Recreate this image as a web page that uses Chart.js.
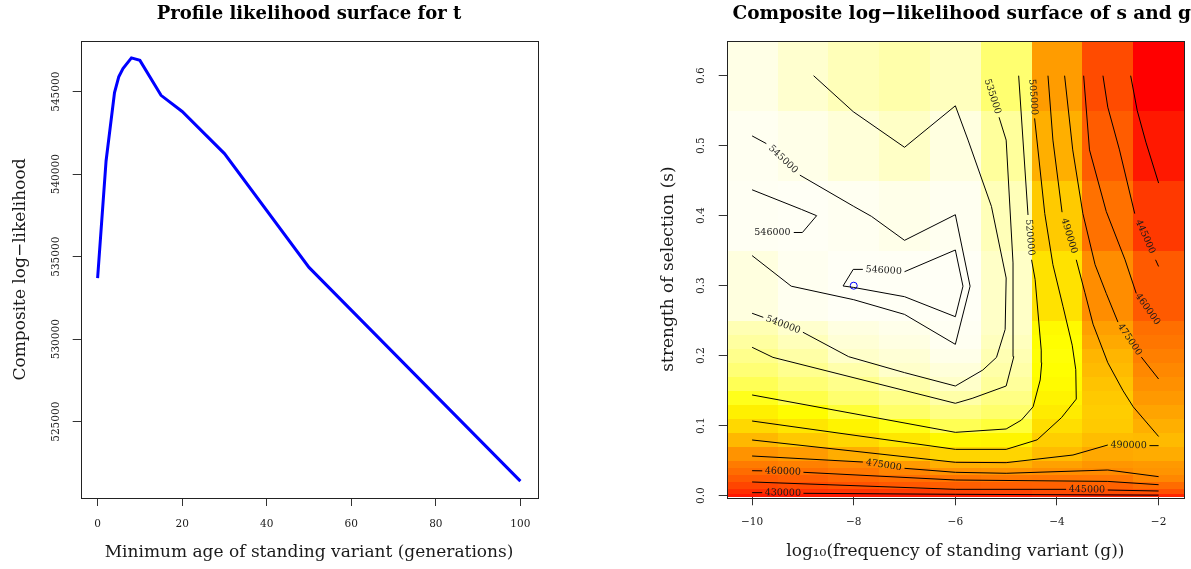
<!DOCTYPE html>
<html>
<head>
<meta charset="utf-8">
<script src="https://cdn.jsdelivr.net/npm/chart.js@4.4.1/dist/chart.umd.min.js"></script>
<style>
  html, body { margin: 0; padding: 0; background: #fff; }
  #wrap { position: relative; width: 1191px; height: 569px; overflow: hidden; }
  #profileChart { position: absolute; left: 0; top: 0; }
  #surfaceChart { position: absolute; left: 618px; top: 0; }
</style>
</head>
<body>
<div id="wrap">
  <canvas id="profileChart" width="618" height="569"></canvas>
  <canvas id="surfaceChart" width="573" height="569"></canvas>
</div>
<script>
// left panel: profile log-likelihood against minimum age t
const ageGenerations = [0, 2, 4, 5, 6, 8, 10, 15, 20, 30, 50, 100];
const profileLogLik = [533700, 540800, 544950, 545900, 546400, 547050, 546900, 544780, 543800, 541250, 534350, 521400];
const profileXTicks = [0, 20, 40, 60, 80, 100];
const profileYTicks = [525000, 530000, 535000, 540000, 545000];

// right panel: composite log-likelihood over log10(g) and s
const log10g = [-10, -9, -8, -7, -6, -5, -4, -3, -2];
const sBreaks = [-0.0023, 0.003, 0.01, 0.02, 0.03, 0.04, 0.05, 0.07, 0.09, 0.11, 0.13, 0.15, 0.17, 0.19, 0.21, 0.23, 0.25, 0.35, 0.45, 0.55, 0.65];
// one row per s band, bottom to top; columns follow log10g
const surfaceLogLik = [
  [424000, 424000, 424000, 424000, 425000, 425000, 428000, 428000, 429000],
  [432200, 433200, 434400, 436400, 439500, 440700, 443000, 444000, 444800],
  [440500, 442700, 445600, 448600, 451700, 452800, 453500, 454000, 459000],
  [450000, 452300, 456700, 460000, 463500, 465500, 464500, 465000, 472000],
  [459300, 461200, 465200, 470700, 476700, 478000, 475500, 474000, 477600],
  [466600, 469000, 472700, 480400, 487200, 487800, 482600, 478500, 480000],
  [477200, 480800, 486500, 493100, 500000, 500100, 491300, 484800, 486100],
  [490100, 495000, 500800, 507000, 513500, 512100, 497300, 491500, 490500],
  [501300, 506500, 511700, 517800, 523400, 521100, 503300, 496000, 487200],
  [510400, 515400, 520800, 525200, 530700, 526000, 508500, 497000, 483500],
  [518400, 522500, 526500, 531700, 536600, 530900, 512000, 495500, 479800],
  [523500, 527800, 532200, 536900, 540300, 535200, 514500, 493500, 476200],
  [528000, 533100, 537000, 540300, 541900, 536600, 516000, 491000, 472400],
  [532400, 536400, 540300, 541500, 543600, 537800, 516500, 489000, 468500],
  [535800, 538600, 541500, 542700, 545200, 539000, 515500, 485000, 464700],
  [537900, 540600, 542600, 543900, 545700, 540000, 514000, 482000, 460800],
  [542400, 545100, 546200, 546100, 546300, 540000, 505000, 474500, 450000],
  [545600, 546100, 545300, 543700, 545000, 538500, 496000, 462000, 436000],
  [545200, 543500, 541800, 539900, 542500, 535300, 487000, 451000, 424000],
  [543000, 540800, 538500, 537000, 539000, 527000, 481000, 443000, 415000]
];
const surfaceXTicks = [-10, -8, -6, -4, -2];
const surfaceYTicks = [0, 0.1, 0.2, 0.3, 0.4, 0.5, 0.6];
const bestFit = [-8, 0.3];

// contour paths as [log10 g, s]; a label sits in each gap between pieces
const contour546Peak = [
  [[-8.21, 0.2996], [-8.01, 0.3233], [-7.82, 0.3233]],
  [[-7.0, 0.320], [-6.0, 0.351], [-5.85, 0.2993], [-6.0, 0.2557], [-7.0, 0.2843], [-8.0, 0.2975], [-8.21, 0.2996]]
];
const contour546Left = [
  [[-10, 0.437], [-9.03, 0.409], [-8.73, 0.400], [-9.01, 0.376], [-9.18, 0.376]],
  [[-10.02, 0.376]]
];
const contour545 = [
  [[-10, 0.514], [-9.72, 0.503]],
  [[-9.06, 0.458], [-8.0, 0.4133], [-7.65, 0.399], [-7.0, 0.3648], [-6.0, 0.4014], [-5.71, 0.2993], [-6.0, 0.2162], [-7.0, 0.259], [-8.0, 0.280], [-9.23, 0.2993], [-10, 0.343]]
];
const contour540 = [
  [[-10, 0.2606], [-9.78, 0.2548]],
  [[-9.0, 0.2335], [-8.1, 0.1986], [-7.0, 0.1758], [-6.0, 0.1567], [-5.46, 0.1795], [-5.19, 0.1976], [-5.02, 0.2375], [-5.0, 0.311], [-5.29, 0.4133], [-5.75, 0.508], [-6.0, 0.557], [-7.0, 0.4977], [-8.01, 0.5486], [-8.79, 0.600]]
];
const contour535 = [
  [[-10, 0.212], [-9.59, 0.1976], [-6.0, 0.132], [-5.67, 0.139], [-5.0, 0.1567], [-4.85, 0.1986], [-4.865, 0.3325], [-5.0, 0.508], [-5.14, 0.5406]],
  [[-5.40, 0.600]]
];
const contour520 = [
  [[-10, 0.1439], [-6.0, 0.0905], [-5.0, 0.0953], [-4.70, 0.108], [-4.47, 0.127], [-4.33, 0.1653], [-4.30, 0.19], [-4.31, 0.208], [-4.43, 0.309], [-4.50, 0.337]],
  [[-4.57, 0.401], [-4.754, 0.600]]
];
const contour505 = [
  [[-10, 0.1067], [-6.0, 0.0662], [-5.0, 0.0662], [-4.39, 0.0798], [-3.91, 0.1116], [-3.62, 0.138], [-3.63, 0.18], [-3.70, 0.215], [-3.88, 0.27], [-4.08, 0.33], [-4.24, 0.403], [-4.44, 0.539]],
  [[-4.50, 0.600]]
];
const contour490Upper = [
  [[-4.177, 0.600], [-4.08, 0.508], [-3.90, 0.405]],
  [[-3.62, 0.337], [-3.45, 0.29], [-3.29, 0.245], [-3.0, 0.19], [-2.7, 0.15], [-2.5, 0.127], [-2.0, 0.0846]]
];
const contour490Lower = [
  [[-10, 0.0796], [-6.0, 0.0477], [-5.0, 0.0472], [-3.685, 0.0581], [-3.0, 0.0724]],
  [[-2.18, 0.0715], [-2.0, 0.0715]]
];
const contour475Upper = [
  [[-3.85, 0.600], [-3.69, 0.494], [-3.49, 0.403], [-3.25, 0.33], [-3.03, 0.289], [-2.80, 0.248]],
  [[-2.34, 0.198], [-2.0, 0.1667]]
];
const contour475Lower = [
  [[-10, 0.0567], [-7.82, 0.0481]],
  [[-7.0, 0.0391], [-6.0, 0.0334], [-5.0, 0.032], [-3.0, 0.0367], [-2.0, 0.0272]]
];
const contour460Upper = [
  [[-3.475, 0.600], [-3.36, 0.494], [-3.03, 0.406], [-2.66, 0.337], [-2.44, 0.289]],
  [[-2.0, 0.244]]
];
const contour460Lower = [
  [[-10, 0.0357], [-9.80, 0.0355]],
  [[-8.99, 0.0334], [-6.0, 0.0224], [-3.0, 0.0204], [-2.0, 0.0157]]
];
const contour445Upper = [
  [[-3.095, 0.600], [-3.0, 0.555], [-2.77, 0.494], [-2.47, 0.403]],
  [[-2.06, 0.337], [-2.0, 0.3275]]
];
const contour445Lower = [
  [[-10, 0.0196], [-6.0, 0.0091], [-3.82, 0.0091]],
  [[-3.0, 0.0081], [-2.0, 0.0067]]
];
const contour430Upper = [
  [[-2.55, 0.600], [-2.42, 0.55], [-2.25, 0.505], [-2.0, 0.4466]]
];
const contour430Lower = [
  [[-10, 0.0043], [-9.80, 0.0043]],
  [[-8.99, 0.0034], [-6.0, 0.002], [-2.0, 0.0008]]
];
const contourLevels = [546000, 546000, 545000, 540000, 535000, 520000, 505000, 490000, 490000, 475000, 475000, 460000, 460000, 445000, 445000, 430000, 430000];
const contourPaths = [contour546Peak, contour546Left, contour545, contour540, contour535, contour520, contour505,
  contour490Upper, contour490Lower, contour475Upper, contour475Lower, contour460Upper, contour460Lower,
  contour445Upper, contour445Lower, contour430Upper, contour430Lower];

const FONT = '"DejaVu Serif", "Liberation Serif", serif';
const INK = '#1a1a1a';

// heat palette: red -> yellow, then yellow fading to white
const hueStops = [[415000, 0], [445000, 19], [465000, 28], [480000, 36], [495000, 47], [516000, 60]];
const paleStops = [[516000, 1], [525000, 0.6], [535000, 0.4], [540000, 0.22], [543000, 0.1], [546500, 0.03]];

function interp(stops, v) {
  if (v <= stops[0][0]) return stops[0][1];
  for (let i = 1; i < stops.length; i++) {
    if (v <= stops[i][0]) {
      const [x0, y0] = stops[i - 1], [x1, y1] = stops[i];
      return y0 + (y1 - y0) * (v - x0) / (x1 - x0);
    }
  }
  return stops[stops.length - 1][1];
}

function heatColour(z) {
  if (z < 516000) return `rgb(255,${Math.round(255 * interp(hueStops, z) / 60)},0)`;
  return `rgb(255,255,${Math.round(255 * (1 - interp(paleStops, z)))})`;
}

const plotBox = {
  id: 'plotBox',
  afterDatasetsDraw(chart) {
    const { ctx, chartArea: a } = chart;
    ctx.save();
    ctx.strokeStyle = '#222';
    ctx.lineWidth = 1;
    ctx.strokeRect(Math.round(a.left) + 0.5, Math.round(a.top) + 0.5, Math.round(a.right - a.left), Math.round(a.bottom - a.top));
    ctx.restore();
  }
};

const heatCells = {
  id: 'heatCells',
  beforeDatasetsDraw(chart) {
    const { ctx, scales: { x, y } } = chart;
    ctx.save();
    surfaceLogLik.forEach((row, i) => {
      const top = Math.round(y.getPixelForValue(sBreaks[i + 1]));
      const bottom = Math.round(y.getPixelForValue(sBreaks[i]));
      row.forEach((z, j) => {
        const left = Math.round(x.getPixelForValue(log10g[j] - 0.5));
        const right = Math.round(x.getPixelForValue(log10g[j] + 0.5));
        ctx.fillStyle = heatColour(z);
        ctx.fillRect(left, top, right - left, bottom - top);
      });
    });
    ctx.restore();
  }
};

const contourLabels = {
  id: 'contourLabels',
  afterDatasetsDraw(chart) {
    const { ctx, scales: { x, y } } = chart;
    ctx.save();
    ctx.font = '9.5px ' + FONT;
    ctx.fillStyle = INK;
    ctx.textAlign = 'center';
    ctx.textBaseline = 'middle';
    contourPaths.forEach((pieces, k) => {
      for (let i = 0; i < pieces.length - 1; i++) {
        const a = pieces[i][pieces[i].length - 1];
        const b = pieces[i + 1][0];
        const ax = x.getPixelForValue(a[0]), ay = y.getPixelForValue(a[1]);
        const bx = x.getPixelForValue(b[0]), by = y.getPixelForValue(b[1]);
        let ang = Math.atan2(by - ay, bx - ax);
        if (ang > Math.PI / 2) ang -= Math.PI;
        if (ang <= -Math.PI / 2) ang += Math.PI;
        ctx.save();
        ctx.translate((ax + bx) / 2, (ay + by) / 2);
        ctx.rotate(ang);
        ctx.fillText(String(contourLevels[k]), 0, 0);
        ctx.restore();
      }
    });
    ctx.restore();
  }
};

function padAxis(width) {
  return {
    type: 'linear', position: 'right', display: true,
    grid: { display: false }, ticks: { display: false }, border: { display: false },
    afterFit: s => { s.width = width; }
  };
}

function tickGrid() {
  return { display: true, drawOnChartArea: false, drawTicks: true, tickLength: 8, color: '#333', tickColor: '#333' };
}

const minus = v => (v < 0 ? '\u2212' + Math.abs(v) : String(v));

// ---- left chart ----
new Chart(document.getElementById('profileChart'), {
  type: 'scatter',
  data: {
    datasets: [{
      data: ageGenerations.map((t, i) => ({ x: t, y: profileLogLik[i] })),
      showLine: true,
      borderColor: '#0000ff',
      borderWidth: 3,
      pointRadius: 0,
      tension: 0
    }]
  },
  options: {
    responsive: false,
    animation: false,
    layout: { padding: 0 },
    plugins: {
      legend: { display: false },
      tooltip: { enabled: false },
      title: {
        display: true,
        text: 'Profile likelihood surface for t',
        color: '#000',
        font: { family: FONT, size: 18, weight: 'bold', lineHeight: 1.2 },
        padding: { top: 4, bottom: 15.4 }
      }
    },
    scales: {
      x: {
        type: 'linear', min: -4, max: 104,
        afterBuildTicks: s => { s.ticks = profileXTicks.map(v => ({ value: v })); },
        afterFit: s => { s.height = 71; },
        grid: tickGrid(),
        border: { display: false },
        ticks: { color: INK, font: { family: FONT, size: 10.5 }, padding: 11.5, maxRotation: 0, autoSkip: false },
        title: {
          display: true, text: 'Minimum age of standing variant (generations)', color: INK,
          font: { family: FONT, size: 17 }, padding: { top: 0, bottom: 5.8 }
        }
      },
      y: {
        type: 'linear', min: 520376, max: 548073,
        afterBuildTicks: s => { s.ticks = profileYTicks.map(v => ({ value: v })); },
        afterFit: s => { s.width = 80.7; },
        grid: tickGrid(),
        border: { display: false },
        ticks: {
          color: INK, font: { family: FONT, size: 10.5 }, minRotation: 90, maxRotation: 90,
          crossAlign: 'center', padding: -3.3, autoSkip: false, callback: v => String(v)
        },
        title: {
          display: true, text: 'Composite log\u2212likelihood', color: INK,
          font: { family: FONT, size: 17 }, padding: { top: 10.8, bottom: 0 }
        }
      },
      yPad: padAxis(80.7)
    }
  },
  plugins: [plotBox]
});

// ---- right chart ----
const contourSets = [];
contourPaths.forEach(pieces => {
  pieces.forEach(piece => {
    if (piece.length < 2) return;
    contourSets.push({
      data: piece.map(([g, s]) => ({ x: g, y: s })),
      showLine: true,
      borderColor: '#000',
      borderWidth: 1,
      pointRadius: 0,
      tension: 0
    });
  });
});

new Chart(document.getElementById('surfaceChart'), {
  type: 'scatter',
  data: {
    datasets: contourSets.concat([{
      data: [{ x: bestFit[0], y: bestFit[1] }],
      pointRadius: 3.5,
      pointBorderColor: '#0000ff',
      pointBackgroundColor: 'rgba(0,0,0,0)',
      pointBorderWidth: 1
    }])
  },
  options: {
    responsive: false,
    animation: false,
    layout: { padding: 0 },
    plugins: {
      legend: { display: false },
      tooltip: { enabled: false },
      title: {
        display: true,
        align: 'end',
        text: 'Composite log\u2212likelihood surface of s and g',
        color: '#000',
        font: { family: FONT, size: 18.5, weight: 'bold', lineHeight: 1.2 },
        padding: { top: 3.5, bottom: 15 }
      }
    },
    scales: {
      x: {
        type: 'linear', min: -10.5, max: -1.5,
        afterBuildTicks: s => { s.ticks = surfaceXTicks.map(v => ({ value: v })); },
        afterFit: s => { s.height = 71.7; },
        grid: tickGrid(),
        border: { display: false },
        ticks: { color: INK, font: { family: FONT, size: 10.5 }, padding: 11, maxRotation: 0, autoSkip: false, callback: minus },
        title: {
          display: true, text: 'log\u2081\u2080(frequency of standing variant (g))', color: INK,
          font: { family: FONT, size: 17 }, padding: { top: 0, bottom: 6.8 }
        }
      },
      y: {
        type: 'linear', min: -0.0023, max: 0.65,
        afterBuildTicks: s => { s.ticks = surfaceYTicks.map(v => ({ value: v })); },
        afterFit: s => { s.width = 108.7; },
        grid: tickGrid(),
        border: { display: false },
        ticks: {
          color: INK, font: { family: FONT, size: 10.5 }, minRotation: 90, maxRotation: 90,
          crossAlign: 'center', padding: 8.6, autoSkip: false, callback: v => v.toFixed(1)
        },
        title: {
          display: true, text: 'strength of selection (s)', color: INK,
          font: { family: FONT, size: 17 }, padding: { top: 40.8, bottom: 0 }
        }
      },
      yPad: padAxis(7)
    }
  },
  plugins: [heatCells, plotBox, contourLabels]
});
</script>
</body>
</html>
